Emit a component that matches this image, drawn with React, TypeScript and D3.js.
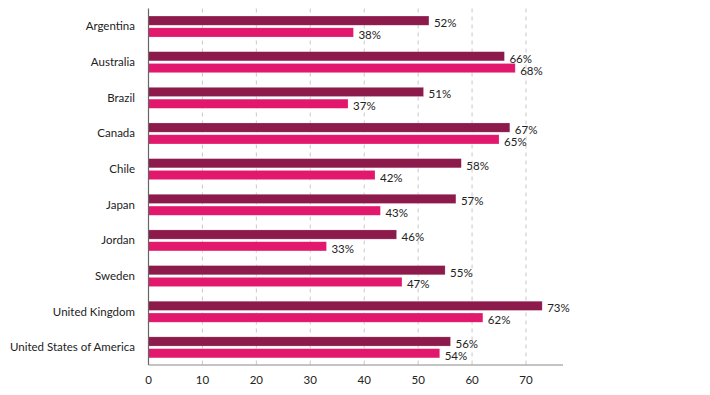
import React from "react";
import * as d3 from "d3";

const categories = [
  "Argentina",
  "Australia",
  "Brazil",
  "Canada",
  "Chile",
  "Japan",
  "Jordan",
  "Sweden",
  "United Kingdom",
  "United States of America",
];
const seriesNames = ["Series A", "Series B"];
const seriesA = [52, 66, 51, 67, 58, 57, 46, 55, 73, 56];
const seriesB = [38, 68, 37, 65, 42, 43, 33, 47, 62, 54];
const xTicks = [0, 10, 20, 30, 40, 50, 60, 70];
const colors = ["#8c1a4b", "#e2186d"];

const W = 710;
const H = 395;
const left = 148.5;
const right = 563;
const top = 8.5;
const bottom = 365;
const font = "Lato, 'Open Sans', sans-serif";

export default function App() {
  const x = d3.scaleLinear().domain([0, 76.86]).range([left, right]);
  const y = d3.scaleBand<string>().domain(categories).range([top, bottom]).padding(0);
  const bw = y.bandwidth();
  const inner = d3
    .scaleBand<string>()
    .domain(seriesNames)
    .range([bw / 2 - 10.3, bw / 2 + 10.7])
    .paddingInner(0.22);
  const values = [seriesA, seriesB];

  return (
    <svg
      width={W}
      height={H}
      style={{ position: "absolute", left: 0, top: 0, background: "#fff" }}
      fontFamily={font}
    >
      {xTicks.slice(1).map((t) => (
        <line
          key={"g" + t}
          x1={x(t)}
          x2={x(t)}
          y1={top}
          y2={bottom}
          stroke="#c8c8c8"
          strokeDasharray="4,4"
          strokeWidth={1}
        />
      ))}
      {categories.map((c, i) => (
        <g key={c} transform={`translate(0,${y(c)})`}>
          <text
            x={135}
            y={bw / 2}
            dy="0.35em"
            textAnchor="end"
            fontSize={11.5}
            fill="#222"
          >
            {c}
          </text>
          {seriesNames.map((s, si) => {
            const v = values[si][i];
            const by = inner(s)!;
            return (
              <g key={s}>
                <rect
                  x={x(0)}
                  y={by}
                  width={x(v) - x(0)}
                  height={inner.bandwidth()}
                  fill={colors[si]}
                  stroke="#ffffff"
                  strokeOpacity={0.35}
                  strokeWidth={0.6}
                />
                <text
                  x={x(v) + 5}
                  y={by + inner.bandwidth() / 2 + 2.5}
                  dy="0.35em"
                  fontSize={11.5}
                  fill="#222"
                >
                  {v}%
                </text>
              </g>
            );
          })}
        </g>
      ))}
      <line x1={left} x2={left} y1={top} y2={bottom} stroke="#666" strokeWidth={1.2} />
      <line x1={left} x2={right} y1={bottom} y2={bottom} stroke="#888" strokeWidth={1} />
      {xTicks.map((t) => (
        <text
          key={"t" + t}
          x={x(t)}
          y={380}
          dy="0.35em"
          textAnchor="middle"
          fontSize={11.5}
          fill="#222"
        >
          {t}
        </text>
      ))}
    </svg>
  );
}
